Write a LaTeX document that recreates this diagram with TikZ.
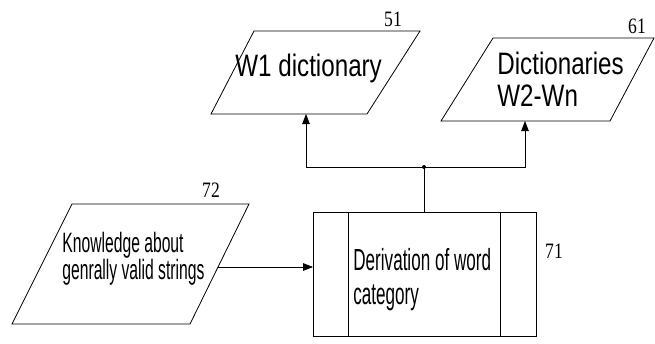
\documentclass[tikz,border=0pt]{standalone}
\usepackage{fontspec}
\setmainfont{Liberation Sans}
\newfontfamily\dictfont[FakeStretch=0.78]{Liberation Sans}
\newfontfamily\condfont[FakeStretch=0.56]{Liberation Sans}
\newfontfamily\numfont[FakeStretch=0.8]{Liberation Serif}
\usetikzlibrary{arrows.meta, positioning}

\begin{document}
\begin{tikzpicture}[x=1pt, y=-1pt, line width=0.8pt,
    dictlabel/.style={inner sep=0pt, anchor=north west, align=left, font={\dictfont\fontsize{31}{32}\selectfont}},
    knowlabel/.style={inner sep=0pt, anchor=north west, align=left, font={\condfont\fontsize{28}{25}\selectfont}},
    derivlabel/.style={inner sep=0pt, anchor=north west, align=left, font={\condfont\fontsize{30.5}{34}\selectfont}},
    refnum/.style={inner sep=0pt, font={\numfont\fontsize{22}{24}\selectfont}},
    flow/.style={-{Triangle[length=10pt, width=7.5pt]}}]
    \useasboundingbox (0,0) rectangle (655,343);

    % W1 dictionary
    \draw (254,31) -- (420,31) -- (367,114) -- (211,114) -- cycle;
    \node[dictlabel] (w1) at (235,54) {W1 dictionary};
    \node[refnum] (n51) at (393,19) {51};
    \coordinate (w1in) at (306,114);

    % Dictionaries W2-Wn
    \draw (493,38) -- (654,38) -- (610,121) -- (441,121) -- cycle;
    \node[dictlabel] (wn) at (497,52) {Dictionaries\\W2-Wn};
    \node[refnum] (n61) at (637,26) {61};
    \coordinate (wnin) at (525,121);

    % Knowledge about strings
    \draw (72,204) -- (249,204) -- (190,324) -- (12,324) -- cycle;
    \node[knowlabel] (know) at (62,232) {Knowledge about\\genrally valid strings};
    \node[refnum] (n72) at (211,190) {72};
    \coordinate (kout) at (218,267);

    % Derivation box
    \node[draw, minimum width=223pt, minimum height=124pt, inner sep=0pt] (deriv) at (425,274.5) {};
    \draw ([xshift=35.5pt]deriv.north west) -- ([xshift=35.5pt]deriv.south west);
    \draw ([xshift=-37pt]deriv.north east) -- ([xshift=-37pt]deriv.south east);
    \node[derivlabel] (derivtext) at (353,248) {Derivation of word\\category};
    \node[refnum] (n71) at (554,251) {71};

    % Connectors
    \coordinate (split) at (424,167);
    \draw[flow] (kout) -- (kout -| deriv.west);
    \draw (split |- deriv.north) -- (split);
    \draw[flow] (split) -| (w1in);
    \draw[flow] (split) -| (wnin);
    \fill (split) circle (2pt);

\end{tikzpicture}
\end{document}
